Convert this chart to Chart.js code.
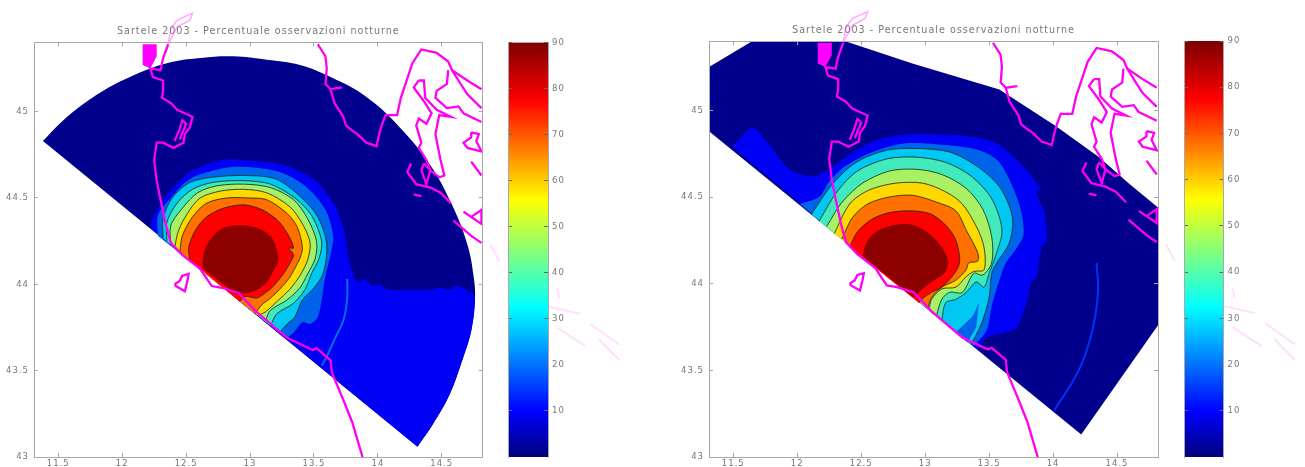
<!DOCTYPE html>
<html>
<head>
<meta charset="utf-8">
<style>
html, body { margin: 0; padding: 0; background: #fff; overflow: hidden; }
canvas { position: absolute; top: 0; filter: blur(0.7px); }
</style>
<script src="https://cdn.jsdelivr.net/npm/chart.js@4"></script>
</head>
<body>
<canvas id="leftMap" width="650" height="467" style="left:0"></canvas>
<canvas id="rightMap" width="629" height="467" style="left:676px"></canvas>
<canvas id="leftBar" width="90" height="467" style="left:490px"></canvas>
<canvas id="rightBar" width="90" height="467" style="left:1166px"></canvas>
<script>
var titleText = "Sartele 2003 - Percentuale osservazioni notturne";
var lonTicks = [11.5, 12, 12.5, 13, 13.5, 14, 14.5];
var latTicks = [43, 43.5, 44, 44.5, 45];
var barTicks = [10, 20, 30, 40, 50, 60, 70, 80, 90];

var levelColors = ["#00008c", "#0000f5", "#0064ea", "#00c8f2", "#40eabc", "#a8f064", "#ffd800", "#ff7000", "#ff0000", "#8c0000"];

// lon, lat pairs
var leftSector = [[11.38,44.83],[11.57,44.97],[11.83,45.11],[12.09,45.21],[12.35,45.28],[12.61,45.31],[12.87,45.32],[13.13,45.30],[13.39,45.27],[13.63,45.20],[13.90,45.09],[14.17,44.91],[14.41,44.69],[14.58,44.46],[14.70,44.23],[14.75,44.04],[14.76,43.91],[14.73,43.73],[14.66,43.56],[14.56,43.36],[14.43,43.19],[14.31,43.06]];
var left10 = [[12.23,44.32],[12.23,44.37],[12.34,44.51],[12.53,44.65],[12.78,44.72],[12.95,44.72],[13.27,44.69],[13.51,44.60],[13.66,44.46],[13.73,44.33],[13.78,44.12],[13.84,44.01],[13.89,44.03],[13.96,43.99],[14.02,44.00],[14.07,43.97],[14.25,43.97],[14.41,43.97],[14.48,43.98],[14.56,43.97],[14.62,43.99],[14.75,43.94],[14.76,43.91],[14.73,43.73],[14.66,43.56],[14.56,43.36],[14.43,43.19],[14.31,43.06]];
var left20 = [[12.28,44.28],[12.28,44.40],[12.38,44.50],[12.53,44.61],[12.78,44.67],[12.95,44.68],[13.23,44.65],[13.43,44.57],[13.59,44.43],[13.65,44.28],[13.63,44.17],[13.59,44.05],[13.56,43.91],[13.53,43.81],[13.47,43.77],[13.41,43.78],[13.34,43.72],[13.29,43.69]];
var left30 = [[12.32,44.27],[12.32,44.38],[12.39,44.50],[12.53,44.59],[12.71,44.62],[12.95,44.63],[13.20,44.61],[13.39,44.51],[13.53,44.39],[13.60,44.23],[13.57,44.06],[13.49,43.97],[13.41,43.91],[13.35,43.81],[13.29,43.77],[13.23,43.72]];
var left40 = [[12.35,44.25],[12.35,44.36],[12.43,44.47],[12.55,44.55],[12.71,44.59],[12.95,44.60],[13.16,44.58],[13.35,44.50],[13.48,44.40],[13.56,44.25],[13.54,44.15],[13.48,44.06],[13.43,43.97],[13.34,43.89],[13.21,43.83],[13.16,43.76]];
var left50 = [[12.38,44.23],[12.38,44.34],[12.47,44.44],[12.59,44.53],[12.74,44.57],[12.95,44.58],[13.16,44.56],[13.34,44.49],[13.45,44.38],[13.52,44.25],[13.51,44.15],[13.45,44.06],[13.39,43.98],[13.29,43.91],[13.16,43.85],[13.12,43.79]];
var left60 = [[12.41,44.21],[12.44,44.31],[12.51,44.41],[12.61,44.50],[12.77,44.54],[12.95,44.55],[13.13,44.53],[13.31,44.45],[13.41,44.35],[13.47,44.24],[13.45,44.14],[13.39,44.05],[13.31,43.97],[13.21,43.90],[13.12,43.84],[13.06,43.82]];
var left70 = [[12.45,44.18],[12.47,44.28],[12.55,44.39],[12.66,44.47],[12.82,44.50],[12.98,44.50],[13.13,44.49],[13.29,44.41],[13.37,44.33],[13.41,44.21],[13.39,44.15],[13.37,44.12],[13.31,44.04],[13.23,43.97],[13.16,43.92],[13.09,43.88],[13.04,43.83]];
var left80 = [[12.53,44.14],[12.52,44.21],[12.57,44.31],[12.66,44.39],[12.79,44.44],[12.95,44.46],[13.10,44.43],[13.23,44.36],[13.31,44.27],[13.34,44.21],[13.30,44.21],[13.34,44.17],[13.31,44.12],[13.26,44.06],[13.17,43.98],[13.10,43.94],[13.05,43.92],[12.96,43.93],[12.92,43.90]];
var left90 = [[12.63,44.09],[12.63,44.14],[12.65,44.21],[12.71,44.28],[12.80,44.33],[12.95,44.34],[13.08,44.32],[13.17,44.27],[13.21,44.20],[13.22,44.13],[13.17,44.06],[13.13,44.01],[13.06,43.97],[12.98,43.95],[12.90,43.94]];
var leftArc = [[13.76,44.03],[13.76,43.92],[13.73,43.79],[13.66,43.68],[13.60,43.58],[13.56,43.53]];

// lon, lat pairs
var rightSector = [[11.31,45.25],[11.65,45.40],[12.37,45.40],[12.90,45.27],[13.58,45.12],[14.02,44.91],[14.36,44.73],[14.59,44.58],[14.82,44.44],[14.82,43.76],[14.22,43.13],[11.31,44.88]];
var right10 = [[11.49,44.79],[11.65,44.90],[11.76,44.82],[11.94,44.66],[12.12,44.62],[12.25,44.66],[12.38,44.73],[12.59,44.82],[12.85,44.86],[13.16,44.86],[13.42,44.84],[13.58,44.80],[13.79,44.66],[13.89,44.56],[13.91,44.55],[13.87,44.53],[13.93,44.41],[13.95,44.25],[13.91,44.21],[13.87,44.04],[13.83,44.01],[13.80,43.91],[13.72,43.75],[13.64,43.72],[13.48,43.69],[13.41,43.62]];
var right20 = [[12.02,44.46],[12.17,44.50],[12.25,44.59],[12.38,44.68],[12.59,44.76],[12.85,44.81],[13.16,44.80],[13.42,44.77],[13.58,44.70],[13.73,44.47],[13.77,44.29],[13.71,44.20],[13.63,44.12],[13.58,44.02],[13.55,43.95],[13.52,43.87],[13.48,43.73],[13.38,43.64]];
var right30 = [[12.11,44.40],[12.27,44.57],[12.46,44.70],[12.70,44.77],[12.93,44.78],[13.19,44.76],[13.40,44.68],[13.58,44.56],[13.68,44.39],[13.66,44.24],[13.56,44.12],[13.52,44.06],[13.50,43.92],[13.44,43.77],[13.36,43.65]];
var rightPocket = [[13.24,43.72],[13.37,43.81],[13.42,43.89],[13.40,43.75],[13.33,43.66]];
var right40 = [[12.17,44.36],[12.31,44.53],[12.47,44.65],[12.70,44.72],[12.93,44.73],[13.16,44.70],[13.36,44.62],[13.52,44.49],[13.60,44.31],[13.55,44.16],[13.50,44.06],[13.46,43.98],[13.40,44.01],[13.32,43.95],[13.24,43.91],[13.16,43.89],[13.13,43.79]];
var right50 = [[12.23,44.33],[12.35,44.47],[12.51,44.58],[12.72,44.65],[12.93,44.66],[13.13,44.63],[13.32,44.55],[13.45,44.43],[13.52,44.27],[13.52,44.12],[13.45,44.05],[13.38,44.06],[13.29,43.95],[13.19,43.95],[13.13,43.91],[13.09,43.82]];
var right60 = [[12.29,44.29],[12.41,44.46],[12.56,44.54],[12.77,44.58],[12.98,44.58],[13.16,44.53],[13.29,44.46],[13.40,44.33],[13.46,44.21],[13.46,44.08],[13.38,44.07],[13.32,44.04],[13.24,43.98],[13.13,43.97],[13.05,43.91],[13.03,43.85]];
var right70 = [[12.35,44.26],[12.43,44.38],[12.55,44.46],[12.72,44.50],[12.90,44.51],[13.09,44.47],[13.24,44.42],[13.32,44.31],[13.41,44.18],[13.41,44.13],[13.34,44.12],[13.32,44.08],[13.24,44.02],[13.13,43.98],[13.05,43.92],[13.02,43.86]];
var right80 = [[12.41,44.21],[12.47,44.30],[12.58,44.37],[12.72,44.41],[12.90,44.42],[13.05,44.40],[13.17,44.33],[13.24,44.25],[13.27,44.13],[13.23,44.06],[13.13,43.98],[13.05,43.95],[12.99,43.92],[12.95,43.89]];
var right90 = [[12.51,44.16],[12.55,44.25],[12.64,44.31],[12.77,44.34],[12.90,44.34],[13.03,44.29],[13.13,44.21],[13.18,44.13],[13.15,44.06],[13.05,44.01],[12.98,43.97],[12.91,43.92]];
var rightArc = [[14.34,44.12],[14.35,43.94],[14.30,43.71],[14.20,43.50],[14.01,43.27]];

// coastline, same lon lat on both maps
var coastItaly = [[12.36,45.39],[12.32,45.31],[12.30,45.24],[12.22,45.25],[12.24,45.20],[12.32,45.18],[12.32,45.12],[12.31,45.08],[12.38,45.05],[12.43,45.01],[12.55,44.97],[12.53,44.91],[12.49,44.87],[12.48,44.82],[12.40,44.79],[12.32,44.82],[12.27,44.82],[12.25,44.72],[12.27,44.60],[12.30,44.49],[12.34,44.35],[12.38,44.24],[12.47,44.17],[12.61,44.09],[12.70,43.99],[12.78,43.98],[12.91,43.95],[13.05,43.84],[13.29,43.69],[13.49,43.62],[13.52,43.63],[13.63,43.56],[13.64,43.49],[13.73,43.33],[13.80,43.20],[13.88,43.00]];
var coastPo = [[12.41,44.83],[12.45,44.90],[12.47,44.95],[12.50,44.93],[12.45,44.84]];
var lagoon = [[12.16,45.39],[12.27,45.39],[12.27,45.32],[12.22,45.25],[12.16,45.27],[12.16,45.35]];
var island = [[12.41,44.0],[12.45,44.02],[12.47,44.05],[12.52,44.06],[12.51,44.02],[12.49,43.96],[12.42,43.99],[12.41,44.0]];
var coastIstria = [[13.53,45.39],[13.59,45.32],[13.60,45.25],[13.59,45.16],[13.63,45.13],[13.72,45.14],[13.63,45.13],[13.66,45.05],[13.73,44.97],[13.75,44.92],[13.80,44.89],[13.84,44.87],[13.91,44.82],[13.99,44.80],[14.01,44.87],[14.03,44.92],[14.06,44.98],[14.15,44.98],[14.18,45.08],[14.27,45.28],[14.34,45.36],[14.46,45.34],[14.55,45.29],[14.58,45.24],[14.70,45.18],[14.81,45.13]];
var coastB1 = [[14.55,45.24],[14.54,45.16],[14.46,45.12],[14.45,45.08],[14.54,45.02],[14.63,45.03],[14.67,44.99],[14.81,44.94]];
var coastB2 = [[14.58,45.24],[14.63,45.18],[14.70,45.10],[14.81,45.02]];
var coastCres = [[14.32,45.18],[14.28,45.14],[14.36,45.06],[14.42,44.99],[14.38,44.93],[14.32,44.96],[14.30,44.92],[14.34,44.82],[14.32,44.79],[14.38,44.72],[14.41,44.66],[14.48,44.62],[14.52,44.63],[14.49,44.72],[14.45,44.87],[14.48,44.98],[14.57,44.97],[14.46,45.01],[14.37,45.08],[14.36,45.18],[14.32,45.18]];
var coastRab = [[14.73,44.88],[14.79,44.87],[14.77,44.83],[14.81,44.77],[14.70,44.79],[14.67,44.82],[14.73,44.85],[14.73,44.88]];
var coastPag = [[14.73,44.71],[14.81,44.63]];
var coastIst1 = [[14.26,44.70],[14.23,44.65],[14.30,44.58],[14.41,44.56],[14.49,44.53],[14.57,44.47]];
var coastIst2 = [[14.36,44.70],[14.41,44.66],[14.38,44.58],[14.34,44.66],[14.36,44.70]];
var coastIst3 = [[14.28,44.52],[14.34,44.51]];
var coastIst4 = [[14.59,44.37],[14.73,44.28],[14.81,44.24]];
var coastIst5 = [[14.67,44.42],[14.73,44.39],[14.81,44.43],[14.81,44.35],[14.73,44.39]];
var coastStrong = [coastItaly, coastPo, island, coastIstria, coastB1, coastB2, coastCres, coastRab, coastPag, coastIst1, coastIst2, coastIst3, coastIst4, coastIst5];

// parts of the coast outside the axes, printed very pale
var paleTop = [[12.36,45.39],[12.38,45.48],[12.43,45.53],[12.55,45.57],[12.53,45.53],[12.43,45.49],[12.36,45.39]];
var paleEast = [
    [[14.88,44.23],[14.95,44.13]],
    [[15.40,43.98],[15.42,43.92]],
    [[15.34,43.87],[15.58,43.83]],
    [[15.40,43.75],[15.63,43.64]],
    [[15.66,43.77],[15.89,43.65]],
    [[15.73,43.68],[15.89,43.56]]
];

var leftLevels = [left10, left20, left30, left40, left50, left60, left70, left80, left90];
var rightLevels = [right10, right20, right30, right40, right50, right60, right70, right80, right90];

Chart.defaults.font.family = "'DejaVu Sans'";
Chart.defaults.font.size = 8.5;
Chart.defaults.color = "#777";

var frame = "#a8a8a8";

// the scanned labels are widely spaced
var wideText = {
    id: "wideText",
    beforeDraw: function(chart){ chart.ctx.letterSpacing = "1px"; }
};

function toPoints(list){
    return list.map(function(p){ return {x: p[0], y: p[1]}; });
}

function lineSet(list, color, width, clip, tension){
    var set = {data: toPoints(list), showLine: true, fill: false, borderColor: color, borderWidth: width, pointRadius: 0, tension: tension || 0};
    if (clip === false) set.clip = false;
    return set;
}

function areaSet(list, color, edge, tension){
    return {data: toPoints(list), showLine: true, fill: "shape", backgroundColor: color, tension: tension || 0,
        borderColor: edge ? "rgba(20,40,20,0.9)" : color, borderWidth: edge ? 0.9 : 0, pointRadius: 0};
}

function fixed(size, horizontal){
    return function(scale){
        if (horizontal) scale.height = size; else scale.width = size;
        scale.paddingTop = scale.paddingBottom = scale.paddingLeft = scale.paddingRight = 0;
    };
}

function tickList(values){
    return function(scale){
        scale.ticks = values.map(function(v){ return {value: v}; });
    };
}

function axis(position, min, max, values, size, showLabels){
    var horizontal = position === "top" || position === "bottom";
    return {
        type: "linear", position: position, min: min, max: max,
        afterBuildTicks: tickList(values),
        afterFit: fixed(size, horizontal),
        border: {color: frame, z: 1},
        grid: {drawOnChartArea: false, color: frame, tickLength: -4, z: 1},
        ticks: {display: showLabels, maxRotation: 0, autoSkip: false, padding: horizontal ? 6 : 9,
            callback: function(v){ return v; }}
    };
}

function drawMap(id, sector, sectorTension, levels, arc, arcColor, pocket, plotTop, yWidth, rightSpace){
    var sets = [areaSet(sector, levelColors[0], false, sectorTension)];
    for (var i=0; i<levels.length; i++){
        sets.push(areaSet(levels[i], levelColors[i+1], i >= 2 && i < 8, 0.3));
        if (pocket && i === 2) sets.push(areaSet(pocket, levelColors[2], false));
    }
    sets.push(lineSet(arc, arcColor, 2, true, 0.4));
    sets.push(areaSet(lagoon, "#ff00ff", false));
    for (var c=0; c<coastStrong.length; c++){
        sets.push(lineSet(coastStrong[c], "#ff00f4", 2.3));
    }
    sets.push(lineSet(paleTop, "rgba(255,0,255,0.35)", 1.5, false));
    for (var e=0; e<paleEast.length; e++){
        sets.push(lineSet(paleEast[e], "rgba(255,0,255,0.13)", 2, false));
    }
    // chart.js paints the highest order first
    sets.forEach(function(s, n){ s.order = sets.length - n; });

    new Chart(document.getElementById(id), {
        type: "scatter",
        data: {datasets: sets},
        plugins: [wideText],
        options: {
            responsive: false,
            animation: false,
            layout: {padding: {right: rightSpace}},
            plugins: {
                legend: {display: false},
                tooltip: {enabled: false},
                title: {display: true, text: titleText, fullSize: false, color: "#777",
                    font: {size: 9.6, weight: "normal"},
                    padding: {top: plotTop - 16.5, bottom: 5}}
            },
            scales: {
                x: axis("bottom", 11.31, 14.82, lonTicks, 10, true),
                y: axis("left", 43, 45.4, latTicks, yWidth, true),
                x2: axis("top", 11.31, 14.82, lonTicks, 0, false),
                y2: axis("right", 43, 45.4, latTicks, 0, false)
            }
        }
    });
}

function jet(context){
    var area = context.chart.chartArea;
    if (!area) return "#0000ff";
    var g = context.chart.ctx.createLinearGradient(0, area.bottom, 0, area.top);
    g.addColorStop(0, "#00007c");
    g.addColorStop(0.11, "#0000ff");
    g.addColorStop(0.36, "#00ffff");
    g.addColorStop(0.62, "#ffff00");
    g.addColorStop(0.86, "#ff0000");
    g.addColorStop(1, "#7c0000");
    return g;
}

function drawBar(id, plotTop, barWidth){
    var right = axis("right", 0, 90, barTicks, 90 - 18 - barWidth, true);
    right.ticks.padding = 8;
    right.grid.color = "#666";
    var left = axis("left", 0, 90, barTicks, 18, false);
    left.grid.color = "#666";
    new Chart(document.getElementById(id), {
        type: "bar",
        data: {labels: [""], datasets: [{data: [[0, 90]], backgroundColor: jet, barPercentage: 1, categoryPercentage: 1, yAxisID: "y"}]},
        plugins: [wideText],
        options: {
            responsive: false,
            animation: false,
            layout: {padding: {top: plotTop, bottom: 10}},
            plugins: {legend: {display: false}, tooltip: {enabled: false}},
            scales: {x: {display: false}, y: right, y2: left}
        }
    });
}

drawMap("leftMap", leftSector, 0.4, leftLevels, leftArc, "#0070e4", null, 42.5, 34, 167.3);
drawMap("rightMap", rightSector, 0, rightLevels, rightArc, "#0030ff", rightPocket, 41, 33, 147);
drawBar("leftBar", 42.5, 40);
drawBar("rightBar", 41, 39.5);
</script>
</body>
</html>
